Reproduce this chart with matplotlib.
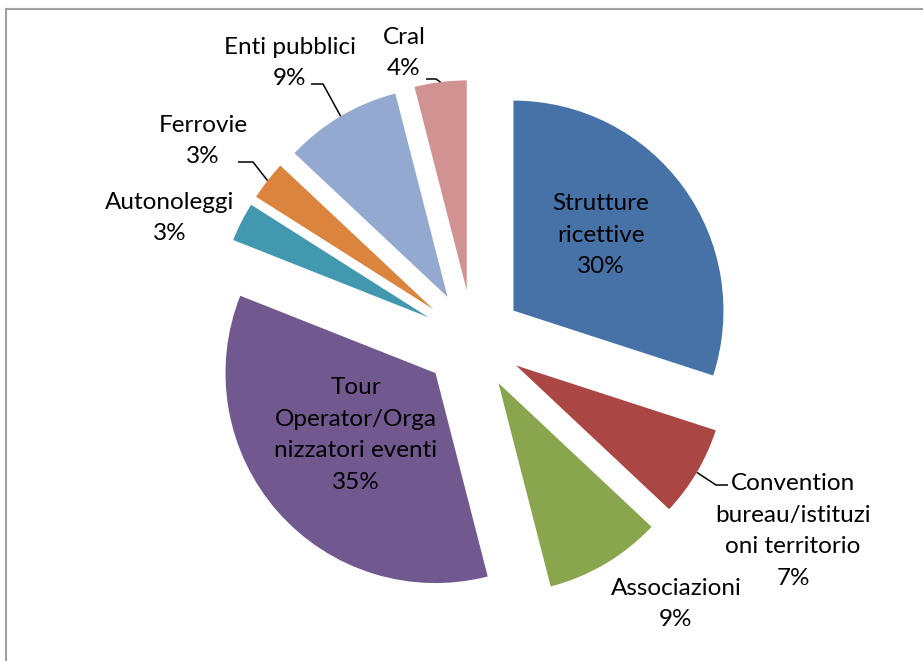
import numpy as np
import matplotlib
matplotlib.use("Agg")
from matplotlib import pyplot as plt
from matplotlib.lines import Line2D

plt.rcParams['font.family'] = ['Lato', 'DejaVu Sans']

categories = ["Strutture\nricettive", "Convention\nbureau/istituzi\noni territorio", "Associazioni",
              "Tour\nOperator/Orga\nnizzatori eventi", "Autonoleggi", "Ferrovie",
              "Enti pubblici", "Cral"]
shares = [30, 7, 9, 35, 3, 3, 9, 4]
colors = ["#4672A8", "#AA4643", "#89A54E", "#71588F", "#4198AF", "#DB843D", "#93A9CF", "#D19392"]

# layout in pixel coordinates (y measured from the bottom)
W, H = 923, 661
center = (473, 321)
radius = 210
explode = 50
label_pos = [(601, 426), (793, 130), (676, 57), (356, 226), (170, 443), (203, 520), (290, 598), (404, 608)]
# elbow point and end of the horizontal segment for leader lines (None = no leader)
leaders = [None, ((716, 176), (728, 176)), None, None, None,
           ((253, 499), (238, 499)), ((323, 577), (311, 577)), ((436, 582), (426, 582))]

fig = plt.figure(figsize=(W / 100, H / 100), dpi=100)
ax = fig.add_axes([0, 0, 1, 1])

wedges, _ = ax.pie(shares, colors=colors, startangle=90, counterclock=False,
                   explode=[explode] * len(shares), radius=radius, center=center,
                   wedgeprops=dict(linewidth=0), frame=True)
ax.set_xlim(0, W)
ax.set_ylim(0, H)
ax.set_aspect('equal')
ax.axis('off')

total = float(sum(shares))
start = 90.0
for i, (cat, val) in enumerate(zip(categories, shares)):
    span = val / total * 360
    mid = np.deg2rad(start - span / 2)
    start -= span
    x, y = label_pos[i]
    ax.text(x, y, "%s\n%d%%" % (cat, round(val)), ha='center', va='center',
            fontsize=17.5, linespacing=1.62, color='black')
    if leaders[i] is not None:
        d = radius + explode
        px = center[0] + d * np.cos(mid)
        py = center[1] + d * np.sin(mid)
        (ex, ey), (hx, hy) = leaders[i]
        ax.plot([px, ex, hx], [py, ey, hy], color='black', lw=1.1, solid_capstyle='butt')

# chart frame (only left and top edges visible in the crop)
fig.add_artist(Line2D([6 / W, 6 / W], [0, 1 - 9 / H], color='#A0A0A0', lw=1.5, transform=fig.transFigure))
fig.add_artist(Line2D([6 / W, 1], [1 - 9 / H, 1 - 9 / H], color='#A0A0A0', lw=1.5, transform=fig.transFigure))

fig.savefig("out.png", dpi=100, facecolor='white')
